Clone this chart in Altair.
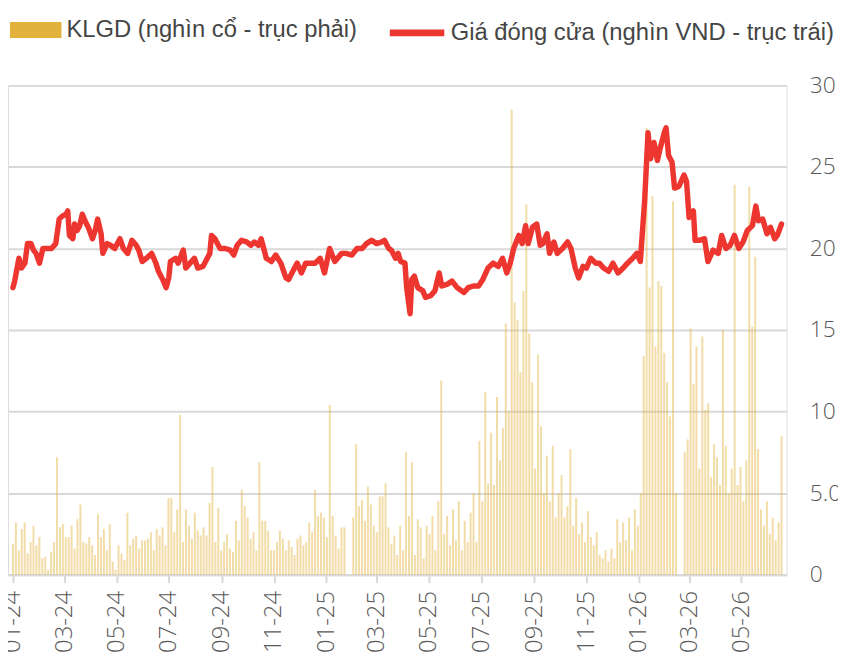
import altair as alt
import pandas as pd

# ---- price (closing, thousand VND) : day offset from 2024-01-01 and value ----
price_day = [0, 2, 7, 10, 14, 17, 21, 24, 27, 31, 35, 41, 45, 50, 54, 58, 62, 64, 66, 70,
             72, 75, 78, 81, 85, 88, 93, 96, 99, 103, 105, 110, 114, 119, 125, 129, 134, 139, 144, 147,
             151, 156, 162, 167, 170, 175, 179, 182, 184, 190, 193, 199, 202, 207, 212, 216, 222, 225, 230, 232,
             236, 242, 248, 254, 258, 262, 267, 273, 278, 282, 287, 290, 296, 302, 307, 313, 319, 322, 327, 332,
             337, 342, 347, 353, 359, 364, 370, 376, 384, 389, 396, 402, 408, 413, 419, 425, 431, 434, 439, 442,
             447, 450, 453, 458, 460, 464, 466, 469, 473, 479, 482, 488, 493, 498, 501, 507, 513, 519, 527, 532,
             538, 544, 549, 555, 561, 567, 572, 577, 581, 585, 591, 595, 599, 602, 607, 612, 616, 619, 624, 627,
             632, 636, 642, 648, 652, 657, 661, 666, 670, 675, 681, 685, 690, 696, 701, 707, 713, 718, 724, 729,
             733, 738, 742, 745, 749, 753, 756, 761, 763, 766, 770, 773, 778, 784, 787, 790, 795, 797, 802, 808,
             812, 818, 824, 828, 833, 838, 843, 848, 853, 858, 864, 868, 871, 876, 881, 885, 890, 893, 898]
price = [17.6, 18.0, 19.4, 18.8, 19.1, 20.3, 20.3, 19.9, 19.7, 19.1, 20.0, 20.0, 20.0, 20.3, 21.8, 22.0, 22.1, 22.3, 20.8, 20.6,
         21.5, 21.1, 21.4, 22.1, 21.6, 21.3, 20.6, 21.1, 21.8, 20.9, 19.7, 20.3, 20.2, 20.0, 20.6, 20.0, 19.7, 20.5, 20.2, 19.9,
         19.2, 19.4, 19.7, 19.1, 18.6, 18.1, 17.6, 18.2, 19.2, 19.4, 19.1, 19.9, 18.8, 19.1, 19.4, 18.8, 18.9, 19.2, 19.7, 20.8,
         20.6, 20.0, 20.0, 19.9, 19.6, 20.2, 20.5, 20.4, 20.2, 20.4, 20.2, 20.6, 19.4, 19.2, 19.6, 19.1, 18.2, 18.1, 18.6, 19.1,
         18.5, 19.1, 19.1, 19.1, 19.4, 18.5, 20.0, 19.2, 19.7, 19.7, 19.6, 20.0, 20.0, 20.3, 20.5, 20.3, 20.4, 20.5, 20.0, 19.9,
         19.4, 19.7, 19.2, 19.1, 17.6, 16.0, 18.1, 18.3, 17.6, 17.4, 17.0, 17.1, 17.4, 18.5, 17.7, 17.8, 18.0, 17.6, 17.3, 17.6,
         17.7, 17.7, 18.1, 18.8, 19.1, 18.9, 19.4, 18.5, 19.1, 20.0, 20.8, 20.3, 21.4, 20.3, 21.3, 21.5, 20.2, 20.3, 20.9, 19.7,
         20.4, 19.7, 20.0, 20.4, 20.0, 18.8, 18.2, 18.9, 18.8, 19.4, 19.1, 19.1, 18.8, 18.6, 19.1, 18.5, 18.8, 19.1, 19.4, 19.7,
         19.2, 22.9, 27.1, 25.5, 26.5, 25.4, 26.1, 27.1, 27.4, 25.7, 25.3, 23.7, 23.8, 24.5, 24.1, 21.9, 22.3, 20.5, 20.5, 20.6,
         19.2, 19.9, 19.7, 20.8, 20.0, 20.2, 20.8, 20.0, 20.4, 21.1, 21.4, 22.6, 21.7, 21.8, 20.9, 21.3, 20.6, 20.8, 21.5]

# ---- trading volume (thousand shares), evenly spaced samples 2024-01-01 .. 2026-06-17 ----
volume = [1.9, 3.2, 1.5, 2.8, 3.2, 1.3, 2.0, 3.0, 1.8, 2.3, 1.0, 1.1, 0.3, 1.4, 2.0, 7.2, 2.9, 3.1, 2.3, 2.3,
          3.0, 1.6, 3.4, 4.3, 2.0, 1.9, 2.3, 1.8, 1.2, 3.7, 2.3, 2.8, 1.5, 3.1, 0.8, 0.3, 1.8, 1.3, 0.9, 3.8,
          1.8, 2.2, 2.4, 1.6, 2.1, 2.1, 2.2, 2.6, 1.5, 2.8, 2.4, 2.9, 1.8, 4.7, 4.7, 2.6, 4.0, 9.8, 2.0, 4.0,
          3.0, 2.2, 3.8, 2.7, 2.4, 2.9, 2.4, 4.4, 6.6, 2.0, 4.1, 1.5, 2.0, 2.5, 1.6, 1.4, 3.3, 2.1, 5.2, 4.2,
          3.5, 2.2, 2.6, 1.5, 6.9, 3.3, 3.3, 2.7, 1.5, 1.5, 2.0, 2.7, 2.2, 1.5, 2.1, 1.7, 1.2, 2.2, 2.4, 1.8,
          2.0, 3.2, 2.6, 5.2, 3.6, 3.8, 3.5, 2.3, 10.4, 3.6, 2.4, 1.6, 2.9, 2.9, 0.0, 0.0, 3.5, 8.0, 4.2, 4.6,
          3.3, 5.4, 4.3, 3.0, 2.6, 4.8, 4.8, 5.6, 2.9, 1.9, 2.4, 1.2, 3.0, 1.5, 7.5, 3.6, 6.9, 1.2, 3.4, 2.9,
          1.0, 3.0, 2.5, 3.6, 1.5, 4.5, 11.9, 2.5, 3.6, 1.8, 4.0, 2.1, 4.5, 1.5, 3.3, 2.0, 3.8, 5.0, 2.0, 8.2,
          4.5, 11.2, 5.6, 8.7, 5.5, 10.9, 7.0, 9.0, 15.4, 10.0, 28.5, 16.7, 15.6, 12.4, 17.4, 22.7, 14.8, 11.8, 6.5, 13.5,
          9.1, 5.0, 7.3, 4.5, 7.9, 3.5, 5.0, 6.1, 3.5, 4.2, 7.7, 3.0, 4.7, 2.5, 3.2, 2.0, 3.9, 2.3, 1.8, 2.6,
          1.2, 1.0, 1.5, 0.8, 1.6, 1.0, 3.4, 2.0, 3.2, 2.1, 3.5, 1.5, 4.0, 3.0, 5.0, 13.4, 27.4, 17.6, 23.2, 14.0,
          18.0, 17.7, 13.6, 11.8, 9.7, 22.9, 5.0, 0.0, 0.0, 7.5, 8.3, 15.1, 11.7, 14.0, 6.5, 14.6, 10.1, 10.5, 6.0, 8.0,
          7.2, 5.5, 15.0, 7.9, 5.0, 6.5, 23.9, 5.5, 6.6, 4.5, 7.0, 23.8, 15.2, 19.5, 7.7, 4.0, 3.0, 4.5, 2.5, 3.5,
          2.1, 3.2, 8.5]

x_ticks = ["2024-01-01", "2024-03-01", "2024-05-01", "2024-07-01", "2024-09-01", "2024-11-01",
           "2025-01-01", "2025-03-01", "2025-05-01", "2025-07-01", "2025-09-01", "2025-11-01",
           "2026-01-01", "2026-03-01", "2026-05-01"]
y_ticks = [0, 5, 10, 15, 20, 25, 30]

vol_label = "KLGD (nghìn cổ - trục phải)"
price_label = "Giá đóng cửa (nghìn VND - trục trái)"

start = pd.Timestamp("2024-01-01")
price_df = pd.DataFrame({
    "date": start + pd.to_timedelta(price_day, unit="D"),
    "value": price,
    "series": price_label,
})
vol_df = pd.DataFrame({
    "date": pd.date_range("2024-01-01", "2026-06-17", periods=len(volume)),
    "value": volume,
    "series": vol_label,
})

AXIS_FONT = "Open Sans"
LEG_FONT = "Liberation Sans"
GRID = "#d9d9d9"

x_enc = alt.X(
    "date:T",
    scale=alt.Scale(domain=["2024-01-01", "2026-06-17"]),
    axis=alt.Axis(
        values=x_ticks, format="%m-%y", labelAngle=-90, labelAlign="right", labelBaseline="middle",
        labelFont=AXIS_FONT, labelFontSize=24, labelFontWeight=300, labelColor="#595959",
        labelPadding=8, tickSize=8, tickWidth=2, tickColor=GRID, domainColor=GRID, domainWidth=2,
        grid=False, title=None, labelOverlap=False, labelFlush=False,
    ),
)
y_scale = alt.Scale(domain=[0, 30], nice=False, zero=True)
y_axis = alt.Axis(
    orient="right", values=y_ticks, labelExpr="datum.value == 5 ? '5.0' : datum.label",
    labelFont=AXIS_FONT, labelFontSize=23, labelFontWeight=300, labelColor="#595959",
    labelPadding=23, ticks=False, domain=False, grid=True, gridColor=GRID, gridWidth=2,
    title=None, labelAlign="left", labelBaseline="middle",
)

bars = alt.Chart(vol_df).mark_bar(size=2, opacity=0.45).encode(
    x=x_enc,
    y=alt.Y("value:Q", scale=y_scale, axis=y_axis),
    fill=alt.Fill(
        "series:N",
        scale=alt.Scale(domain=[vol_label], range=["#E3B23C"]),
        legend=alt.Legend(
            orient="none", legendX=2, legendY=-82, title=None, padding=0,
            symbolType="M-1,-0.31H1V0.31H-1Z", symbolSize=2704, symbolOpacity=1,
            symbolFillColor="#DDAB2C", symbolStrokeWidth=0, labelOffset=5, labelLimit=800,
            labelFont=LEG_FONT, labelFontSize=24, labelColor="#454545",
        ),
    ),
)

line = alt.Chart(price_df).mark_line(strokeWidth=5.5, strokeCap="round", strokeJoin="round").encode(
    x=x_enc,
    y=alt.Y("value:Q", scale=y_scale, axis=y_axis),
    color=alt.Color(
        "series:N",
        scale=alt.Scale(domain=[price_label], range=["#EE3631"]),
        legend=alt.Legend(
            orient="none", legendX=382, legendY=-84, title=None, padding=0,
            symbolType="stroke", symbolSize=3025, symbolStrokeWidth=7, labelOffset=3, labelLimit=800,
            labelFont=LEG_FONT, labelFontSize=24, labelColor="#454545",
        ),
    ),
)

chart = alt.layer(bars, line).resolve_legend(fill="independent", color="independent").properties(
    width=786, height=494,
    autosize=alt.AutoSizeParams(type="none"),
    padding={"left": 0, "top": 75, "right": 52, "bottom": 81},
).configure_view(stroke=None).configure(background="white")

chart.save("out.html", embed_options={"renderer": "svg", "actions": False})
